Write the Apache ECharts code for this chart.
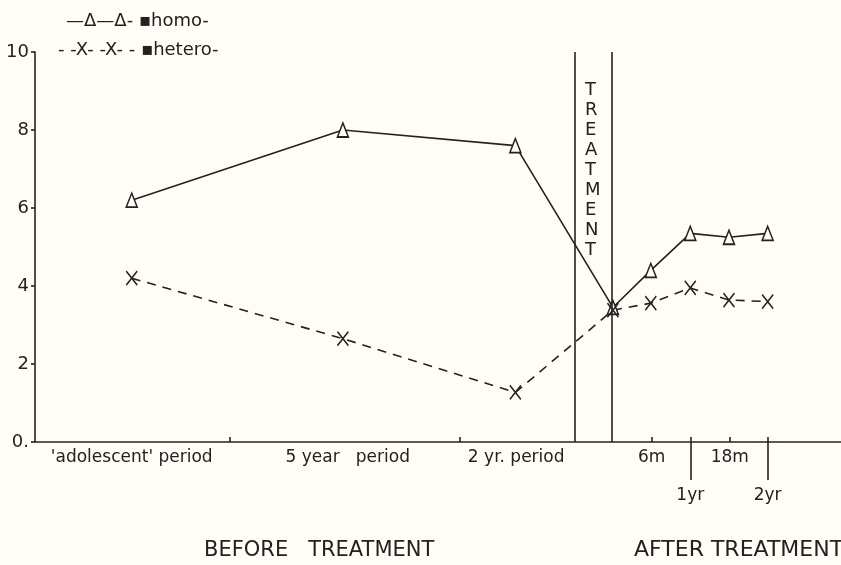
<!DOCTYPE html>
<html>
<head>
<meta charset="utf-8">
<script src="https://cdn.jsdelivr.net/npm/echarts@6/dist/echarts.min.js"></script>
<style>
  html, body { margin: 0; padding: 0; background: #fffdf5; }
  #chart { width: 841px; height: 565px; }
</style>
</head>
<body>
<div id="chart"></div>
<script>
// x positions on a 0-100 time scale (before / after treatment)
var xPoints = [12.0, 38.2, 59.6, 71.7, 76.4, 81.3, 86.1, 90.9];
var homoValues = [6.2, 8.0, 7.6, 3.45, 4.4, 5.35, 5.25, 5.35];
var heteroValues = [4.2, 2.65, 1.27, 3.38, 3.56, 3.95, 3.64, 3.6];

// x-axis labels
var periodLabels = ["'adolescent' period", "5 year   period", "2 yr. period", "6m", "1yr", "18m", "2yr"];
var periodLabelPos = [12.0, 38.8, 59.7, 76.5, 81.3, 86.2, 90.9];
var lowLabels = ['1yr', '2yr'];
var axisTicks = [24.2, 52.7, 76.5, 81.3, 86.2, 90.9];
var treatmentBounds = [67.0, 71.5];

var ink = '#222';
var font = 'DejaVu Sans';

function pairs(xs, ys) {
    var out = [];
    for (var i = 0; i < xs.length; i++) {
        out.push([xs[i], ys[i]]);
    }
    return out;
}

var chart = echarts.init(document.getElementById('chart'));

var option = {
    backgroundColor: '#fffdf5',
    animation: false,
    grid: { left: 35, right: 0, top: 52, bottom: 123 },
    xAxis: [{
        type: 'value',
        min: 0,
        max: 100,
        splitLine: { show: false },
        axisLine: { lineStyle: { color: ink, width: 1.6 } },
        axisTick: {
            customValues: axisTicks,
            inside: true,
            length: 5,
            lineStyle: { color: ink, width: 1.6 }
        },
        axisLabel: {
            customValues: periodLabelPos,
            color: ink,
            fontFamily: font,
            fontSize: 17,
            margin: 6,
            lineHeight: 19,
            formatter: function (v) {
                var i = periodLabelPos.indexOf(v);
                var t = periodLabels[i];
                if (lowLabels.indexOf(t) >= 0) return '\n\n' + t;
                return t;
            }
        }
    }, {
        type: 'value',
        min: 0,
        max: 100,
        position: 'bottom',
        splitLine: { show: false },
        axisLine: { show: false },
        axisLabel: { show: false },
        axisTick: {
            customValues: [81.3, 90.9],
            length: 38,
            lineStyle: { color: ink, width: 1.6 }
        }
    }],
    yAxis: {
        type: 'value',
        min: 0,
        max: 10,
        interval: 2,
        splitLine: { show: false },
        axisLine: { show: true, lineStyle: { color: ink, width: 1.6 } },
        axisTick: { show: true, length: 4, lineStyle: { color: ink, width: 1.6 } },
        axisLabel: {
            color: ink,
            fontFamily: font,
            fontSize: 18,
            margin: 6,
            formatter: function (v) { return v === 0 ? '0.' : String(v); }
        }
    },
    series: [{
        name: 'homo',
        type: 'line',
        data: pairs(xPoints, homoValues),
        symbol: 'triangle',
        symbolSize: [11, 14],
        lineStyle: { color: ink, width: 1.6 },
        itemStyle: { color: '#fffdf5', borderColor: ink, borderWidth: 1.6 },
        z: 3,
        markLine: {
            silent: true,
            symbol: 'none',
            label: { show: false },
            lineStyle: { color: ink, width: 1.6, type: 'solid' },
            data: treatmentBounds.map(function (v) { return { xAxis: v }; })
        }
    }, {
        name: 'hetero',
        type: 'line',
        data: pairs(xPoints, heteroValues),
        symbol: 'path://M0,0L10,12M10,0L0,12',
        symbolSize: [11, 14],
        lineStyle: { color: ink, width: 1.6, type: [9, 7] },
        itemStyle: { color: 'none', borderColor: ink, borderWidth: 1.6 },
        z: 3
    }],
    graphic: [{
        type: 'text',
        left: 66, top: 12,
        style: { text: '\u2014\u0394\u2014\u0394- \u25aahomo-', fill: ink, font: '18px ' + font }
    }, {
        type: 'text',
        left: 58, top: 41,
        style: { text: '- -X- -X- - \u25aahetero-', fill: ink, font: '18px ' + font }
    }, {
        type: 'text',
        left: 585, top: 80,
        style: {
            text: 'TREATMENT'.split('').join('\n'),
            fill: ink, font: '18px ' + font, lineHeight: 20, align: 'center'
        }
    }, {
        type: 'text',
        left: 204, top: 540,
        style: { text: 'BEFORE   TREATMENT', fill: ink, font: '21px ' + font }
    }, {
        type: 'text',
        left: 634, top: 539,
        style: { text: 'AFTER TREATMENT', fill: ink, font: '22px ' + font }
    }]
};

option && chart.setOption(option);
</script>
</body>
</html>
